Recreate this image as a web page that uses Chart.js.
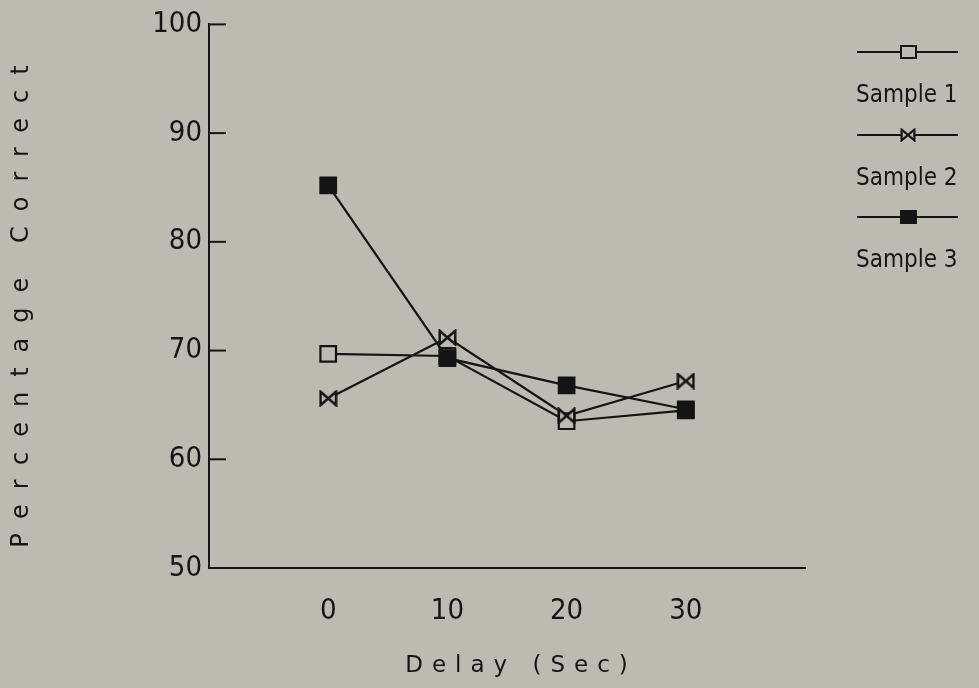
<!DOCTYPE html>
<html>
<head>
<meta charset="utf-8">
<script src="https://cdn.jsdelivr.net/npm/chart.js@4.4.1/dist/chart.umd.min.js"></script>
<style>
  html, body { margin: 0; padding: 0; background: #bcbbb2; }
  #wrap { width: 979px; height: 688px; }
</style>
</head>
<body>
<div id="wrap"><canvas id="chart" width="979" height="688"></canvas></div>
<script>
const delays = [0, 10, 20, 30];
const seriesNames = ["Sample 1", "Sample 2", "Sample 3"];
const sample1 = [69.7, 69.5, 63.5, 64.5];
const sample2 = [65.6, 71.2, 64.0, 67.2];
const sample3 = [85.2, 69.3, 66.8, 64.6];
const yTicks = [50, 60, 70, 80, 90, 100];
const xTicks = [0, 10, 20, 30];

const BG = "#bcbbb2";
const INK = "#141414";
const NARROW = '"Liberation Sans Narrow", "DejaVu Sans Condensed", "Liberation Sans", sans-serif';

// bowtie marker (two triangles meeting at the middle)
function bowtie(w, h, lw) {
  const c = document.createElement("canvas");
  c.width = w; c.height = h;
  const g = c.getContext("2d");
  g.lineWidth = lw;
  g.strokeStyle = INK;
  g.fillStyle = BG;
  const m = lw / 2 + 0.5;
  g.beginPath();
  g.moveTo(m, m); g.lineTo(w / 2, h / 2); g.lineTo(m, h - m); g.closePath();
  g.moveTo(w - m, m); g.lineTo(w / 2, h / 2); g.lineTo(w - m, h - m); g.closePath();
  g.fill();
  g.stroke();
  return c;
}
const tieBig = bowtie(19, 17, 2.5);
const tieSmall = bowtie(16, 14, 2.2);

const toXY = vals => vals.map((v, i) => ({ x: delays[i], y: v }));

const axisTitles = {
  id: "axisTitles",
  afterDraw(chart) {
    const { ctx, chartArea } = chart;
    ctx.save();
    ctx.fillStyle = INK;
    ctx.textAlign = "center";
    ctx.textBaseline = "middle";
    // y title, rotated
    ctx.font = '24px "DejaVu Sans"';
    ctx.letterSpacing = "15px";
    ctx.translate(22, 306);
    ctx.rotate(-Math.PI / 2);
    ctx.fillText("Percentage\u2009Correct", 7, 0);
    ctx.restore();

    ctx.save();
    ctx.fillStyle = INK;
    ctx.textAlign = "center";
    ctx.textBaseline = "middle";
    ctx.font = '23px "DejaVu Sans"';
    ctx.letterSpacing = "9px";
    ctx.fillText("Delay (Sec)", 521, 666);
    ctx.restore();

    // inward tick marks on the y axis
    const y = chart.scales.y;
    ctx.save();
    ctx.strokeStyle = INK;
    ctx.lineWidth = 2;
    y.ticks.forEach(t => {
      const py = y.getPixelForValue(t.value);
      ctx.beginPath();
      ctx.moveTo(chartArea.left, py);
      ctx.lineTo(chartArea.left + 17, py);
      ctx.stroke();
    });
    ctx.restore();
  }
};

const sideLegend = {
  id: "sideLegend",
  afterDraw(chart) {
    const { ctx } = chart;
    const lineY = [52, 135, 217];
    ctx.save();
    chart.data.datasets.forEach((ds, i) => {
      const yy = lineY[i];
      ctx.strokeStyle = INK;
      ctx.lineWidth = 2;
      ctx.beginPath();
      ctx.moveTo(857, yy);
      ctx.lineTo(958, yy);
      ctx.stroke();
      if (ds.pointStyle === "rect") {
        ctx.fillStyle = ds.pointBackgroundColor;
        ctx.fillRect(901, yy - 6, 15, 12);
        ctx.strokeRect(901, yy - 6, 15, 12);
      } else {
        ctx.drawImage(tieSmall, 908 - 8, yy - 7);
      }
      ctx.fillStyle = INK;
      ctx.font = "24px " + NARROW;
      ctx.textAlign = "left";
      ctx.textBaseline = "middle";
      ctx.fillText(ds.label, 856, yy + 44);
    });
    ctx.restore();
  }
};

new Chart(document.getElementById("chart"), {
  type: "line",
  data: {
    datasets: [
      {
        label: seriesNames[0], data: toXY(sample1), order: 2,
        borderColor: INK, borderWidth: 2.2,
        pointStyle: "rect", pointRadius: 11,
        pointBackgroundColor: BG, pointBorderColor: INK, pointBorderWidth: 2.2
      },
      {
        label: seriesNames[1], data: toXY(sample2), order: 1,
        borderColor: INK, borderWidth: 2.2,
        pointStyle: tieBig, pointRadius: 9
      },
      {
        label: seriesNames[2], data: toXY(sample3), order: 0,
        borderColor: INK, borderWidth: 2.2,
        pointStyle: "rect", pointRadius: 11,
        pointBackgroundColor: INK, pointBorderColor: INK, pointBorderWidth: 2.2
      }
    ]
  },
  options: {
    responsive: false,
    animation: false,
    layout: { padding: { top: 20, right: 174, left: 0, bottom: 0 } },
    plugins: { legend: { display: false }, tooltip: { enabled: false } },
    scales: {
      x: {
        type: "linear", min: -10, max: 40,
        afterFit(s) { s.height = 688 - 568; },
        afterBuildTicks(s) { s.ticks = xTicks.map(v => ({ value: v })); },
        grid: { display: true, drawOnChartArea: false, drawTicks: false },
        border: { display: true, color: INK, width: 2 },
        ticks: { color: INK, padding: 26, maxRotation: 0, font: { family: NARROW, size: 29 } }
      },
      y: {
        min: 50, max: 100,
        afterFit(s) { s.width = 209; },
        afterBuildTicks(s) { s.ticks = yTicks.map(v => ({ value: v })); },
        grid: { display: true, drawOnChartArea: false, drawTicks: false },
        border: { display: true, color: INK, width: 2 },
        ticks: { color: INK, padding: 7, font: { family: NARROW, size: 29 } }
      }
    }
  },
  plugins: [axisTitles, sideLegend]
});
</script>
</body>
</html>
